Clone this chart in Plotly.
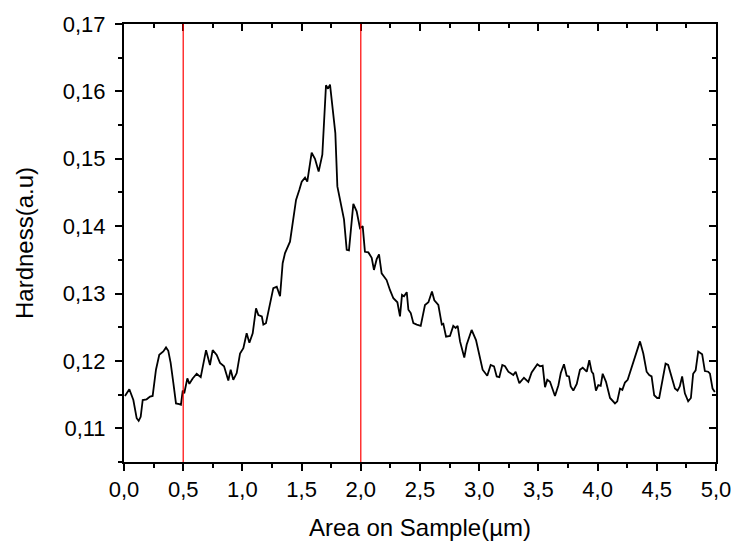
import plotly.graph_objects as go

# Hardness profile across the sample
position_um = [
    0.008, 0.045, 0.079, 0.107, 0.124, 0.141, 0.158, 0.191, 0.220, 0.242,
    0.270, 0.298, 0.332, 0.355, 0.374, 0.394, 0.417, 0.439, 0.467, 0.481,
    0.496, 0.509, 0.535, 0.552, 0.580, 0.614, 0.648, 0.693, 0.726, 0.749,
    0.783, 0.811, 0.845, 0.881, 0.901, 0.923, 0.952, 0.980, 1.008, 1.036,
    1.059, 1.087, 1.115, 1.135, 1.164, 1.177, 1.199, 1.233, 1.261, 1.290,
    1.318, 1.340, 1.360, 1.402, 1.430, 1.453, 1.481, 1.501, 1.529, 1.548,
    1.585, 1.613, 1.644, 1.675, 1.706, 1.723, 1.740, 1.768, 1.785, 1.802,
    1.824, 1.858, 1.881, 1.900, 1.937, 1.965, 1.993, 2.016, 2.035, 2.064,
    2.092, 2.111, 2.134, 2.154, 2.176, 2.218, 2.247, 2.275, 2.309, 2.331,
    2.348, 2.365, 2.388, 2.402, 2.422, 2.444, 2.473, 2.506, 2.542, 2.571,
    2.601, 2.621, 2.655, 2.684, 2.697, 2.720, 2.753, 2.781, 2.801, 2.818,
    2.838, 2.874, 2.894, 2.936, 2.973, 3.001, 3.029, 3.068, 3.097, 3.125,
    3.148, 3.170, 3.195, 3.218, 3.246, 3.288, 3.308, 3.339, 3.378, 3.415,
    3.443, 3.491, 3.514, 3.536, 3.556, 3.575, 3.598, 3.640, 3.669, 3.689,
    3.716, 3.739, 3.758, 3.773, 3.795, 3.824, 3.851, 3.874, 3.908, 3.930,
    3.950, 3.963, 3.986, 4.006, 4.026, 4.043, 4.071, 4.105, 4.147, 4.166,
    4.189, 4.209, 4.231, 4.254, 4.301, 4.329, 4.358, 4.386, 4.414, 4.436,
    4.456, 4.478, 4.503, 4.520, 4.549, 4.574, 4.596, 4.625, 4.653, 4.675,
    4.694, 4.714, 4.737, 4.765, 4.788, 4.807, 4.828, 4.850, 4.883, 4.906,
    4.934, 4.949, 4.971, 4.990,
]
hardness_au = [
    0.1148, 0.1158, 0.1142, 0.1115, 0.1111, 0.1117, 0.1142, 0.1143, 0.1147, 0.1148,
    0.1187, 0.1209, 0.1214, 0.1220, 0.1215, 0.1197, 0.1167, 0.1137, 0.1136, 0.1135,
    0.1156, 0.1152, 0.1174, 0.1166, 0.1174, 0.1181, 0.1176, 0.1216, 0.1194, 0.1216,
    0.1209, 0.1197, 0.1192, 0.1171, 0.1187, 0.1172, 0.1182, 0.1211, 0.1219, 0.1241,
    0.1227, 0.1241, 0.1278, 0.1268, 0.1266, 0.1254, 0.1256, 0.1286, 0.1308, 0.1310,
    0.1296, 0.1345, 0.1360, 0.1377, 0.1410, 0.1439, 0.1454, 0.1466, 0.1472, 0.1466,
    0.1509, 0.1500, 0.1481, 0.1506, 0.1609, 0.1604, 0.1610, 0.1561, 0.1538, 0.1459,
    0.1439, 0.1410, 0.1365, 0.1364, 0.1433, 0.1422, 0.1397, 0.1400, 0.1362, 0.1361,
    0.1353, 0.1335, 0.1351, 0.1358, 0.1330, 0.1320, 0.1305, 0.1293, 0.1287, 0.1266,
    0.1298, 0.1296, 0.1302, 0.1276, 0.1271, 0.1256, 0.1254, 0.1252, 0.1283, 0.1287,
    0.1303, 0.1290, 0.1283, 0.1254, 0.1255, 0.1236, 0.1237, 0.1252, 0.1249, 0.1252,
    0.1229, 0.1205, 0.1224, 0.1246, 0.1231, 0.1207, 0.1187, 0.1178, 0.1194, 0.1192,
    0.1177, 0.1176, 0.1194, 0.1192, 0.1184, 0.1179, 0.1184, 0.1167, 0.1175, 0.1169,
    0.1183, 0.1195, 0.1192, 0.1193, 0.1161, 0.1172, 0.1169, 0.1148, 0.1164, 0.1182,
    0.1195, 0.1178, 0.1177, 0.1162, 0.1156, 0.1166, 0.1187, 0.1190, 0.1184, 0.1201,
    0.1184, 0.1181, 0.1156, 0.1164, 0.1163, 0.1181, 0.1169, 0.1145, 0.1137, 0.1140,
    0.1159, 0.1157, 0.1168, 0.1172, 0.1197, 0.1214, 0.1229, 0.1211, 0.1184, 0.1179,
    0.1177, 0.1149, 0.1145, 0.1145, 0.1172, 0.1196, 0.1194, 0.1177, 0.1159, 0.1156,
    0.1162, 0.1177, 0.1152, 0.1140, 0.1145, 0.1181, 0.1186, 0.1214, 0.1210, 0.1185,
    0.1184, 0.1181, 0.1159, 0.1154,
]

# Region boundaries marked with vertical lines
boundaries_um = [0.5, 2.0]

x_range = [0.0, 5.0]
y_range = [0.105, 0.17]

font_family = "Liberation Sans, Arial, sans-serif"
tick_font = dict(family=font_family, size=22, color="black")
title_font = dict(family=font_family, size=24, color="black")

fig = go.Figure()
fig.add_trace(go.Scatter(
    x=position_um, y=hardness_au, mode="lines",
    line=dict(color="black", width=1.8),
    showlegend=False, hoverinfo="skip",
))

for b in boundaries_um:
    fig.add_shape(type="line", xref="x", yref="paper", x0=b, x1=b, y0=0, y1=1,
                  line=dict(color="#ff0000", width=1.2), layer="above")

axis_common = dict(showgrid=False, zeroline=False, showline=True,
                   linecolor="black", linewidth=2, tickcolor="black",
                   tickwidth=1.5)

fig.update_layout(
    width=733, height=543,
    margin=dict(l=124, r=17, t=24, b=81, autoexpand=False),
    paper_bgcolor="white", plot_bgcolor="white",
    separators=", ",
    font=dict(family=font_family, color="black"),
    xaxis=dict(
        range=x_range, dtick=0.5, tick0=0, tickformat=".1f",
        ticks="outside", ticklen=7, tickfont=tick_font, ticklabelstandoff=0,
        minor=dict(ticks="outside", ticklen=4, dtick=0.25, tick0=0,
                   tickcolor="black", tickwidth=1.5),
        title=dict(text="Area on Sample(µm)", font=title_font, standoff=18),
        automargin=False,
        **axis_common,
    ),
    yaxis=dict(
        range=y_range, dtick=0.01, tick0=0.11, tickformat=".2f",
        ticks="outside", ticklen=7, tickfont=tick_font, ticklabelstandoff=5,
        minor=dict(ticks="outside", ticklen=4, dtick=0.005, tick0=0.105,
                   tickcolor="black", tickwidth=1.5),
        title=dict(text="Hardness(a.u)", font=title_font, standoff=22),
        automargin=False,
        **axis_common,
    ),
    xaxis2=dict(
        range=x_range, dtick=0.5, tick0=0, overlaying="x", side="top",
        anchor="y", ticks="inside", ticklen=7, showticklabels=False,
        minor=dict(ticks="inside", ticklen=4, dtick=0.25, tick0=0,
                   tickcolor="black", tickwidth=1.5),
        **axis_common,
    ),
    yaxis2=dict(
        range=y_range, dtick=0.01, tick0=0.11, overlaying="y", side="right",
        anchor="x", ticks="inside", ticklen=7, showticklabels=False,
        minor=dict(ticks="inside", ticklen=4, dtick=0.005, tick0=0.105,
                   tickcolor="black", tickwidth=1.5),
        **axis_common,
    ),
)

# empty trace so the mirrored frame axes are laid out
fig.add_trace(go.Scatter(x=[], y=[], xaxis="x2", yaxis="y2",
                         showlegend=False, hoverinfo="skip"))

fig.write_html("out.html")
